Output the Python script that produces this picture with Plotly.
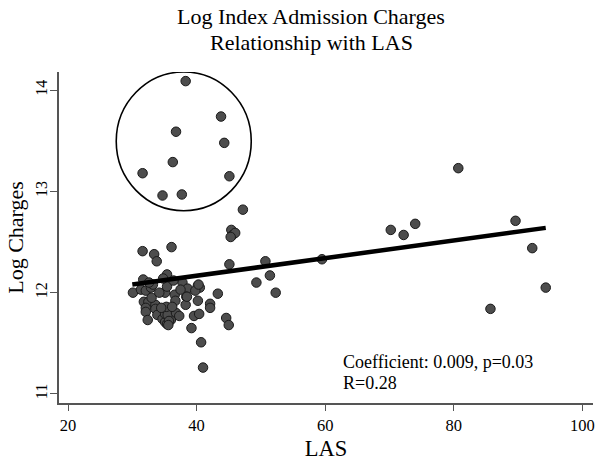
import plotly.graph_objects as go

# LAS values and log charges
las = [38.3, 43.8, 36.8, 44.3, 36.3, 31.6, 45.1, 34.7, 37.7,
       47.2, 45.4, 45.6, 46.0, 45.3, 31.6, 33.4, 33.8, 36.1, 45.1, 49.3,
       80.7, 70.2, 72.2, 74.0, 89.6, 92.2, 94.3, 85.7, 59.5, 50.7, 51.4, 52.3,
       30.1, 31.7, 31.35, 32.1, 32.9, 33.2, 31.8, 32.5, 32.1, 32.1, 32.4, 33.6,
       33.6, 33.9, 34.7, 35.1, 35.4, 36.0, 35.1, 35.5, 35.3, 35.1, 35.4, 35.4,
       34.8, 36.6, 36.7, 36.8, 37.3, 37.8, 38.6, 38.4, 38.3, 40.2, 40.5, 40.2,
       39.6, 40.4, 39.2, 40.7, 41.0, 42.1, 42.1, 43.3, 44.6, 45.0,
       32.6, 34.5, 35.7, 36.2, 33.0, 37.5, 39.8, 36.4, 34.2, 35.6, 38.5, 40.3]
log_charges = [14.09, 13.74, 13.59, 13.48, 13.29, 13.18, 13.15, 12.96, 12.97,
               12.82, 12.62, 12.57, 12.59, 12.55, 12.41, 12.38, 12.31, 12.45, 12.28, 12.10,
               13.23, 12.62, 12.57, 12.68, 12.71, 12.44, 12.05, 11.84, 12.33, 12.31, 12.17, 12.00,
               12.00, 12.13, 12.03, 12.02, 12.05, 12.08, 11.91, 11.91, 11.85, 11.81, 11.73, 11.88,
               11.84, 11.78, 11.74, 11.71, 11.69, 11.73, 11.79, 11.78, 11.86, 12.00, 12.06, 12.18,
               12.14, 11.98, 11.92, 11.80, 11.77, 12.10, 12.04, 11.96, 11.88, 12.07, 12.05, 11.92,
               11.77, 11.79, 11.65, 11.51, 11.26, 11.89, 11.85, 11.99, 11.75, 11.68,
               12.10, 11.85, 11.72, 11.86, 11.95, 12.03, 12.02, 12.12, 12.00, 11.68, 11.96, 12.08]

# fitted line end points
fit_x = [30.0, 94.3]
fit_y = [12.08, 12.64]

# highlighted circle (data coordinates)
circle_x = [27.5, 48.5]
circle_y = [12.81, 14.18]

x_ticks = [20, 40, 60, 80, 100]
y_ticks = [11, 12, 13, 14]

title_lines = ["Log Index Admission Charges", "Relationship with LAS"]
note_lines = ["Coefficient: 0.009, p=0.03", "R=0.28"]

FONT = "Liberation Serif, Times New Roman, serif"
W, H = 601, 465
ML, MR, MT, MB = 59, 8, 72, 62
PW, PH = W - ML - MR, H - MT - MB


def px_to_paper(px, py):
    return (px - ML) / PW, (H - MB - py) / PH


fig = go.Figure()
fig.add_trace(go.Scatter(
    x=las, y=log_charges, mode="markers",
    marker=dict(size=9.5, color="#4d4d4d", line=dict(color="#1a1a1a", width=1)),
    showlegend=False, cliponaxis=False))
fig.add_trace(go.Scatter(
    x=fit_x, y=fit_y, mode="lines",
    line=dict(color="black", width=4.5), showlegend=False))

fig.add_shape(type="circle", xref="x", yref="y",
              x0=circle_x[0], x1=circle_x[1], y0=circle_y[0], y1=circle_y[1],
              line=dict(color="black", width=1.6))

for txt, py in zip(title_lines, [17, 42]):
    ax, ay = px_to_paper(311, py)
    fig.add_annotation(x=ax, y=ay, xref="paper", yref="paper", showarrow=False,
                       text=txt, xanchor="center", yanchor="middle",
                       font=dict(family=FONT, size=22, color="black"))

for txt, py in zip(note_lines, [362, 383]):
    nx, ny = px_to_paper(341, py)
    fig.add_annotation(x=nx, y=ny, xref="paper", yref="paper", xanchor="left",
                       yanchor="middle", align="left", showarrow=False, text=txt,
                       font=dict(family=FONT, size=18, color="black"))

fig.update_layout(
    width=W, height=H,
    margin=dict(l=ML, r=MR, t=MT, b=MB, autoexpand=False),
    paper_bgcolor="white", plot_bgcolor="white",
    font=dict(family=FONT, color="black"),
    xaxis=dict(range=[18.6, 101.65], tickvals=x_ticks, ticks="outside", ticklen=6,
               tickcolor="#555", showline=True, linecolor="#555", linewidth=1.5,
               showgrid=False, zeroline=False, tickfont=dict(family=FONT, size=16.5),
               automargin=False,
               title=dict(text="LAS", font=dict(family=FONT, size=22.5), standoff=7)),
    yaxis=dict(range=[10.91, 14.18], tickvals=y_ticks, ticks="outside", ticklen=7,
               tickcolor="#555", showline=True, linecolor="#555", linewidth=1.5,
               showgrid=False, zeroline=False, tickangle=-90, automargin=False,
               ticklabelstandoff=-3,
               tickfont=dict(family=FONT, size=16),
               title=dict(text="Log Charges", font=dict(family=FONT, size=22), standoff=3)),
)

fig.write_html("out.html", config={"displayModeBar": False},
               post_script="document.body.style.margin='0';document.body.style.overflow='hidden';")
